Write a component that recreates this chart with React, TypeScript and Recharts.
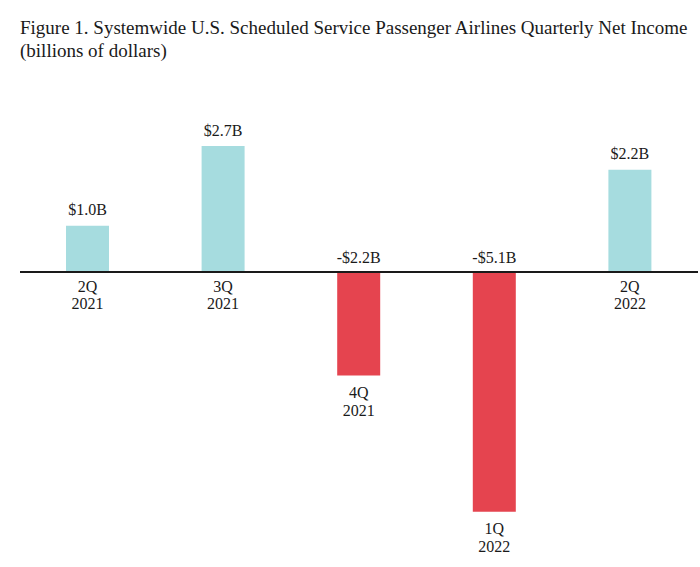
import React from "react";
import { BarChart, Bar, XAxis, YAxis, ReferenceLine, Cell, LabelList } from "recharts";

const quarters = ["2Q", "3Q", "4Q", "1Q", "2Q"];
const years = ["2021", "2021", "2021", "2022", "2022"];
const netIncome = [0.99, 2.7, -2.22, -5.14, 2.19];
const valueLabels = ["$1.0B", "$2.7B", "-$2.2B", "-$5.1B", "$2.2B"];

const POS_COLOR = "#A6DCDF";
const NEG_COLOR = "#E5444F";
const FONT = "'Liberation Serif', 'Times New Roman', serif";

const data = quarters.map((q, i) => ({
  key: `${q} ${years[i]}`,
  value: netIncome[i],
}));

const BarLabels = (props: any) => {
  const { x, y, width, height, index } = props;
  const v = netIncome[index];
  const top = Math.min(y, y + height);
  const bottom = Math.max(y, y + height);
  const cx = x + width / 2;
  const common = { fontFamily: FONT, fontSize: 16, fill: "#1a1a1a", textAnchor: "middle" as const };
  if (v >= 0) {
    return (
      <g>
        <text x={cx} y={top - 10.5} {...common}>{valueLabels[index]}</text>
        <text x={cx} y={bottom + 20} {...common}>{quarters[index]}</text>
        <text x={cx} y={bottom + 36.5} {...common}>{years[index]}</text>
      </g>
    );
  }
  return (
    <g>
      <text x={cx} y={top - 9.5} {...common}>{valueLabels[index]}</text>
      <text x={cx} y={bottom + 22.5} {...common}>{quarters[index]}</text>
      <text x={cx} y={bottom + 40.5} {...common}>{years[index]}</text>
    </g>
  );
};

export default function App() {
  return (
    <div style={{ position: "absolute", left: 0, top: 0, width: 700, height: 567, background: "#fff" }}>
      <div
        style={{
          position: "absolute",
          left: 20,
          top: 16,
          fontFamily: FONT,
          fontSize: 19,
          lineHeight: "23px",
          color: "#1a1a1a",
          whiteSpace: "nowrap",
        }}
      >
        Figure 1. Systemwide U.S. Scheduled Service Passenger Airlines Quarterly Net Income
        <br />
        (billions of dollars)
      </div>
      <BarChart
        width={700}
        height={567}
        data={data}
        margin={{ top: 132, right: 2, bottom: 15, left: 20 }}
        barSize={43}
      >
        <XAxis dataKey="key" hide />
        <YAxis hide domain={[-6, 3]} type="number" />
        <ReferenceLine y={0} stroke="#1a1a1a" strokeWidth={2} />
        <Bar dataKey="value" isAnimationActive={false}>
          {data.map((d, i) => (
            <Cell key={i} fill={d.value >= 0 ? POS_COLOR : NEG_COLOR} />
          ))}
          <LabelList dataKey="value" content={BarLabels} />
        </Bar>
      </BarChart>
    </div>
  );
}
